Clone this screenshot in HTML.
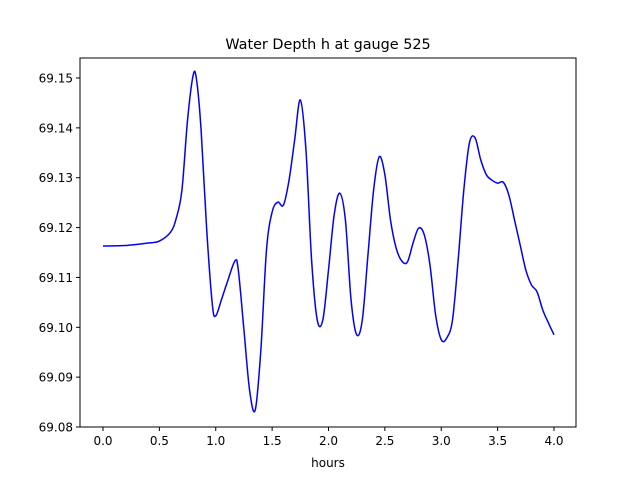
<!DOCTYPE html>
<html><head><meta charset="utf-8"><style>
body{margin:0;background:#fff;}
svg text{font-family:"DejaVu Sans","Liberation Sans",sans-serif;fill:#000;}
</style></head><body>
<svg width="640" height="480" xmlns="http://www.w3.org/2000/svg">
<rect width="640" height="480" fill="#fff"/>
<text x="328" y="49" font-size="14.4" text-anchor="middle">Water Depth h at gauge 525</text>
<g id="plot"></g>
<rect x="80" y="58" width="496" height="369" fill="none" stroke="#000" stroke-width="1"/>
<text x="328" y="467" font-size="12" text-anchor="middle">hours</text>
</svg>
<script>
const xTicks=[0,0.5,1,1.5,2,2.5,3,3.5,4];
const xTickLabels=["0.0","0.5","1.0","1.5","2.0","2.5","3.0","3.5","4.0"];
const yTicks=[69.08,69.09,69.10,69.11,69.12,69.13,69.14,69.15];
const yTickLabels=["69.08","69.09","69.10","69.11","69.12","69.13","69.14","69.15"];
const hours=[0,0.2,0.4,0.5,0.6,0.65,0.7,0.75,0.8,0.83,0.87,0.92,0.97,1.0,1.05,1.1,1.17,1.2,1.25,1.3,1.35,1.4,1.45,1.5,1.55,1.6,1.65,1.7,1.75,1.8,1.85,1.9,1.95,2.0,2.05,2.1,2.15,2.2,2.25,2.3,2.35,2.4,2.45,2.5,2.55,2.6,2.65,2.7,2.75,2.8,2.85,2.9,2.95,3.0,3.05,3.1,3.15,3.2,3.25,3.3,3.35,3.4,3.45,3.5,3.55,3.6,3.65,3.7,3.75,3.8,3.85,3.9,3.95,4.0];
const depth=[69.1163,69.1164,69.1169,69.1173,69.1191,69.1219,69.1275,69.1416,69.1506,69.1496,69.1396,69.1195,69.1045,69.1023,69.1055,69.1089,69.1133,69.1115,69.0995,69.0874,69.0834,69.0954,69.1155,69.1231,69.1251,69.1245,69.1295,69.1376,69.1456,69.1356,69.1135,69.1015,69.1015,69.1115,69.1225,69.1269,69.1215,69.1055,69.0985,69.1015,69.1145,69.1275,69.1342,69.1306,69.1215,69.1159,69.1133,69.1131,69.1169,69.1199,69.1185,69.1125,69.1025,69.0975,69.0979,69.1015,69.1135,69.1275,69.137,69.138,69.1336,69.1306,69.1295,69.1289,69.1291,69.1265,69.1215,69.1165,69.1115,69.1085,69.1071,69.1035,69.1009,69.0985];
const NS="http://www.w3.org/2000/svg";
const X0=80,X1=576,Y0=58,Y1=427;
const xs=v=>103+(v-0)*(554-103)/4;
const ys=v=>427-(v-69.08)*(427-78)/0.07;
const g=document.getElementById('plot');
function mk(t,a){const e=document.createElementNS(NS,t);for(const k in a)e.setAttribute(k,a[k]);g.appendChild(e);return e;}
xTicks.forEach((t,i)=>{
  const l=mk('line',{x1:xs(t),x2:xs(t),y1:Y1,y2:Y1+4,stroke:'#000'});
  
  
  const tx=mk('text',{x:xs(t),y:Y1+18,'font-size':12,'text-anchor':'middle'});
  tx.textContent=xTickLabels[i];
  
  
});
yTicks.forEach((t,i)=>{
  const l=mk('line',{x1:X0-4,x2:X0,y1:ys(t),y2:ys(t),stroke:'#000'});
  
  
  const tx=mk('text',{x:X0-7,y:ys(t)+4.5,'font-size':12,'text-anchor':'end'});
  tx.textContent=yTickLabels[i];
  
  
});
const P=hours.map((h,i)=>[xs(h),ys(depth[i])]);
let d='M'+P[0][0]+','+P[0][1];
for(let i=0;i<P.length-1;i++){
  const p0=P[Math.max(0,i-1)],p1=P[i],p2=P[i+1],p3=P[Math.min(P.length-1,i+2)];
  const c1=[p1[0]+(p2[0]-p0[0])/6,p1[1]+(p2[1]-p0[1])/6];
  const c2=[p2[0]-(p3[0]-p1[0])/6,p2[1]-(p3[1]-p1[1])/6];
  d+=' C'+c1+' '+c2+' '+p2;
}
const path=mk('path',{d:d,fill:'none',stroke:'#0000ff','stroke-width':1.5});


</script>
</body></html>
